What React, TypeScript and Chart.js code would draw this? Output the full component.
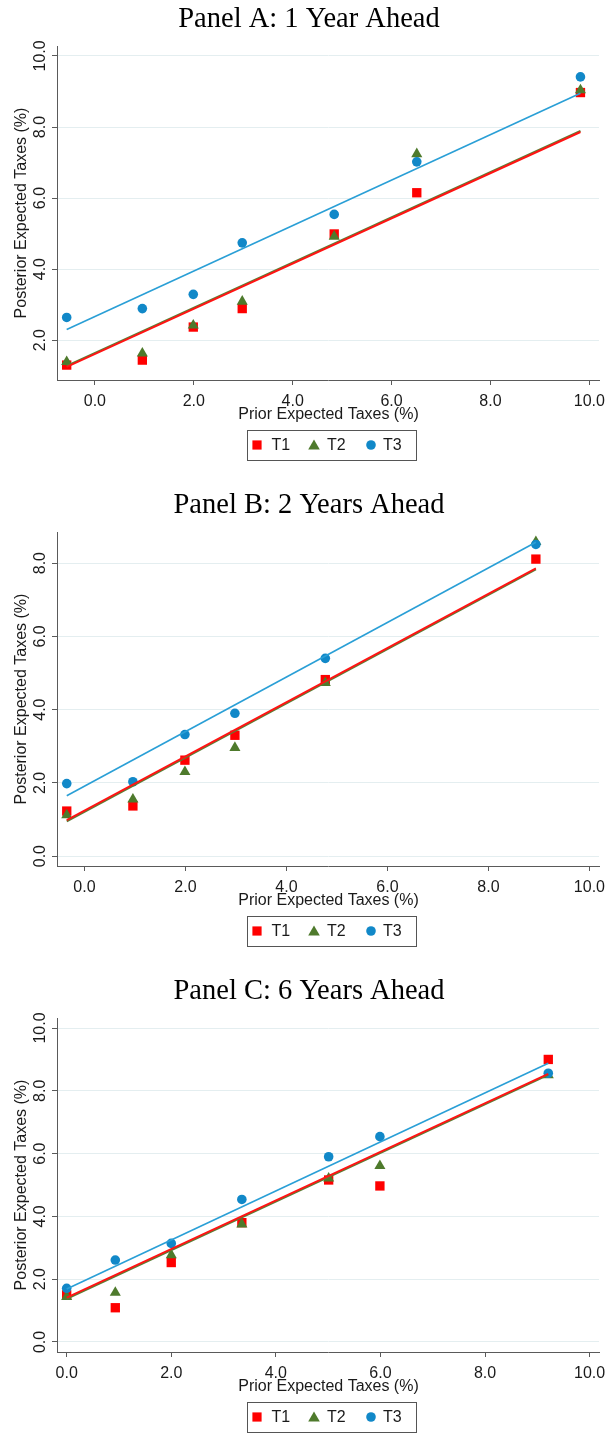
import React, { useEffect, useRef } from "react";
import { Chart, registerables } from "chart.js";
Chart.register(...registerables);

// ---------- data ----------
const SERIES = ["T1", "T2", "T3"];
const PANEL_TITLES = ["Panel A: 1 Year Ahead", "Panel B: 2 Years Ahead", "Panel C: 6 Years Ahead"];
const X_TITLE = "Prior Expected Taxes (%)";
const Y_TITLE = "Posterior Expected Taxes (%)";

// Panel A: 1 year ahead
const priorA = [-0.57, 0.96, 1.99, 2.98, 4.84, 6.51, 9.82];
const t1A = [1.3, 1.44, 2.37, 2.89, 4.99, 6.15, 8.97];
const t2A = [1.39, 1.63, 2.42, 3.09, 4.92, 7.24, 9.04];
const t3A = [2.64, 2.89, 3.29, 4.74, 5.54, 7.02, 9.41];
const fitT1A = [1.25, 7.86];
const fitT2A = [1.28, 7.89];
const fitT3A = [2.3, 8.95];

// Panel B: 2 years ahead
const priorB = [-0.35, 0.96, 1.99, 2.98, 4.77, 8.94];
const t1B = [1.23, 1.37, 2.62, 3.3, 4.82, 8.11];
const t2B = [1.12, 1.55, 2.3, 2.96, 4.73, 8.58];
const t3B = [1.98, 2.03, 3.32, 3.9, 5.4, 8.51];
const fitT1B = [0.98, 7.86];
const fitT2B = [0.95, 7.83];
const fitT3B = [1.65, 8.57];

// Panel C: 6 years ahead
const priorC = [0.0, 0.93, 2.0, 3.35, 5.01, 5.99, 9.21];
const t1C = [1.5, 1.09, 2.53, 3.8, 5.16, 4.97, 9.0];
const t2C = [1.44, 1.57, 2.77, 3.75, 5.21, 5.61, 8.5];
const t3C = [1.71, 2.61, 3.14, 4.54, 5.9, 6.54, 8.56];
const fitT1C = [1.41, 8.54];
const fitT2C = [1.37, 8.51];
const fitT3C = [1.69, 8.88];

// axis ranges
const xRangeA = [-0.766, 10.195];
const yRangeA = [0.88, 10.28];
const xRangeB = [-0.543, 10.19];
const yRangeB = [-0.27, 8.85];
const xRangeC = [-0.185, 10.18];
const yRangeC = [-0.32, 10.32];
const TICK_STEP = 2;

// ---------- styles ----------
const RED = "#ff0000";
const RED_LINE = "#ff1414";
const GREEN = "#4e7a2c";
const GREEN_LINE = "#5a7f35";
const BLUE = "#1188c8";
const BLUE_LINE = "#2a9fd6";
const GRID = "#e4eef0";
const AXIS = "#5a5a5a";
const TEXT = "#1a1a1a";
const SANS = "'Liberation Sans', Arial, sans-serif";
const SERIF = "'Liberation Serif', 'Times New Roman', serif";

const CANVAS_W = 606;
const CANVAS_H = 461;
const PANEL_TOPS = [0, 486, 972];
const PAD_LEFT = 19;
const PAD_RIGHT = 7;
const AREA_BOTTOM = 380;
const X_SCALE_H = 28;

const panels = [
  { title: PANEL_TITLES[0], prior: priorA, ys: [t1A, t2A, t3A], fits: [fitT1A, fitT2A, fitT3A], xr: xRangeA, yr: yRangeA },
  { title: PANEL_TITLES[1], prior: priorB, ys: [t1B, t2B, t3B], fits: [fitT1B, fitT2B, fitT3B], xr: xRangeB, yr: yRangeB },
  { title: PANEL_TITLES[2], prior: priorC, ys: [t1C, t2C, t3C], fits: [fitT1C, fitT2C, fitT3C], xr: xRangeC, yr: yRangeC },
];

const axisText = {
  id: "axisText",
  afterDraw(chart: any) {
    const s = chart.scales.y;
    const a = chart.chartArea;
    const ctx = chart.ctx;
    ctx.save();
    ctx.font = `16px ${SANS}`;
    ctx.fillStyle = TEXT;
    ctx.textAlign = "center";
    ctx.textBaseline = "middle";
    // rotated y tick labels
    s.ticks.forEach((t: any) => {
      const y = s.getPixelForValue(t.value);
      ctx.save();
      ctx.translate(a.left - 16.5, y);
      ctx.rotate(-Math.PI / 2);
      ctx.fillText(Number(t.value).toFixed(1), 0, 0);
      ctx.restore();
    });
    // y title
    ctx.save();
    ctx.translate(21.5, (a.top + a.bottom) / 2);
    ctx.rotate(-Math.PI / 2);
    ctx.fillText(Y_TITLE, 0, 0);
    ctx.restore();
    // x title
    ctx.fillText(X_TITLE, (a.left + a.right) / 2 + 0.5, a.bottom + 35);
    ctx.restore();
  },
};

const boxLegend = {
  id: "boxLegend",
  afterDraw(chart: any) {
    const ctx = chart.ctx;
    const a = chart.chartArea;
    const w = 169;
    const h = 30;
    const left = (a.left + a.right) / 2 - w / 2 + 3;
    const top = a.bottom + 50;
    const cy = top + h / 2;
    ctx.save();
    ctx.strokeStyle = "#555555";
    ctx.lineWidth = 1;
    ctx.strokeRect(Math.round(left) + 0.5, Math.round(top) + 0.5, w, h);
    const items = [
      { style: "rect", color: RED, mx: 10.5, tx: 25, text: SERIES[0] },
      { style: "triangle", color: GREEN, mx: 67.5, tx: 80.5, text: SERIES[1] },
      { style: "circle", color: BLUE, mx: 124.5, tx: 136.5, text: SERIES[2] },
    ];
    ctx.font = `16px ${SANS}`;
    ctx.textBaseline = "middle";
    ctx.textAlign = "left";
    items.forEach((it) => {
      ctx.fillStyle = it.color;
      const x = left + it.mx;
      ctx.beginPath();
      if (it.style === "rect") {
        ctx.rect(x - 4.6, cy - 4.6, 9.2, 9.2);
      } else if (it.style === "triangle") {
        ctx.moveTo(x, cy - 5.5);
        ctx.lineTo(x + 5.8, cy + 4.5);
        ctx.lineTo(x - 5.8, cy + 4.5);
        ctx.closePath();
      } else {
        ctx.arc(x, cy, 4.8, 0, Math.PI * 2);
      }
      ctx.fill();
      ctx.fillStyle = TEXT;
      ctx.fillText(it.text, left + it.tx, cy + 1);
    });
    ctx.restore();
  },
};

function buildConfig(p: any): any {
  const pts = (ys: number[]) => p.prior.map((x: number, i: number) => ({ x, y: ys[i] }));
  const fit = (f: number[]) => [
    { x: p.prior[0], y: f[0] },
    { x: p.prior[p.prior.length - 1], y: f[1] },
  ];
  return {
    type: "scatter",
    data: {
      datasets: [
        { label: SERIES[0], data: pts(p.ys[0]), pointStyle: "rect", pointRadius: 6.6, backgroundColor: RED, borderWidth: 0, order: 6 },
        { label: SERIES[1], data: pts(p.ys[1]), pointStyle: "triangle", pointRadius: 6.4, backgroundColor: GREEN, borderWidth: 0, order: 5 },
        { label: SERIES[2], data: pts(p.ys[2]), pointStyle: "circle", pointRadius: 4.8, backgroundColor: BLUE, borderWidth: 0, order: 4 },
        { label: SERIES[1] + " fit", data: fit(p.fits[1]), showLine: true, borderColor: GREEN_LINE, borderWidth: 2, pointRadius: 0, order: 3 },
        { label: SERIES[0] + " fit", data: fit(p.fits[0]), showLine: true, borderColor: RED_LINE, borderWidth: 2, pointRadius: 0, order: 2 },
        { label: SERIES[2] + " fit", data: fit(p.fits[2]), showLine: true, borderColor: BLUE_LINE, borderWidth: 1.6, pointRadius: 0, order: 1 },
      ],
    },
    options: {
      responsive: false,
      maintainAspectRatio: false,
      animation: false,
      devicePixelRatio: 1,
      layout: { padding: { left: PAD_LEFT, right: PAD_RIGHT, top: 0, bottom: CANVAS_H - AREA_BOTTOM - X_SCALE_H } },
      plugins: {
        legend: { display: false },
        tooltip: { enabled: false },
        title: {
          display: true,
          text: p.title,
          color: "#000",
          font: { family: SERIF, size: 28.5, weight: "normal", lineHeight: 1.2 },
          padding: { top: 2.5, bottom: 46 - 2.5 - 28.5 * 1.2 },
        },
      },
      scales: {
        x: {
          type: "linear",
          position: "bottom",
          min: p.xr[0],
          max: p.xr[1],
          ticks: {
            stepSize: TICK_STEP,
            includeBounds: false,
            maxRotation: 0,
            minRotation: 0,
            autoSkip: false,
            padding: 9,
            color: TEXT,
            font: { family: SANS, size: 16, lineHeight: 1 },
            callback: (v: any) => Number(v).toFixed(1),
          },
          grid: { drawOnChartArea: false, drawTicks: true, tickLength: 5, tickColor: AXIS },
          border: { color: AXIS, width: 1 },
          title: { display: false },
          afterFit: (s: any) => {
            s.height = X_SCALE_H;
            s.paddingLeft = 0;
            s.paddingRight = 0;
          },
        },
        y: {
          type: "linear",
          min: p.yr[0],
          max: p.yr[1],
          ticks: { display: false, stepSize: TICK_STEP, includeBounds: false },
          grid: { color: GRID, lineWidth: 1, drawTicks: true, tickLength: 5, tickColor: AXIS },
          border: { color: AXIS, width: 1 },
          title: { display: false },
          afterFit: (s: any) => {
            s.width = 57 - PAD_LEFT;
            s.paddingTop = 0;
            s.paddingBottom = 0;
          },
        },
      },
    },
    plugins: [axisText, boxLegend],
  };
}

function Panel({ p, top }: { p: any; top: number }) {
  const ref = useRef<HTMLCanvasElement | null>(null);
  useEffect(() => {
    if (!ref.current) return;
    const chart = new Chart(ref.current, buildConfig(p));
    return () => chart.destroy();
  }, [p]);
  return (
    <div style={{ position: "absolute", left: 0, top, width: CANVAS_W, height: CANVAS_H }}>
      <canvas ref={ref} width={CANVAS_W} height={CANVAS_H} style={{ width: CANVAS_W, height: CANVAS_H, display: "block" }} />
    </div>
  );
}

export default function App() {
  return (
    <div style={{ position: "absolute", left: 0, top: 0, width: 606, height: 1433, background: "#fff" }}>
      {panels.map((p, i) => (
        <Panel key={i} p={p} top={PANEL_TOPS[i]} />
      ))}
    </div>
  );
}
